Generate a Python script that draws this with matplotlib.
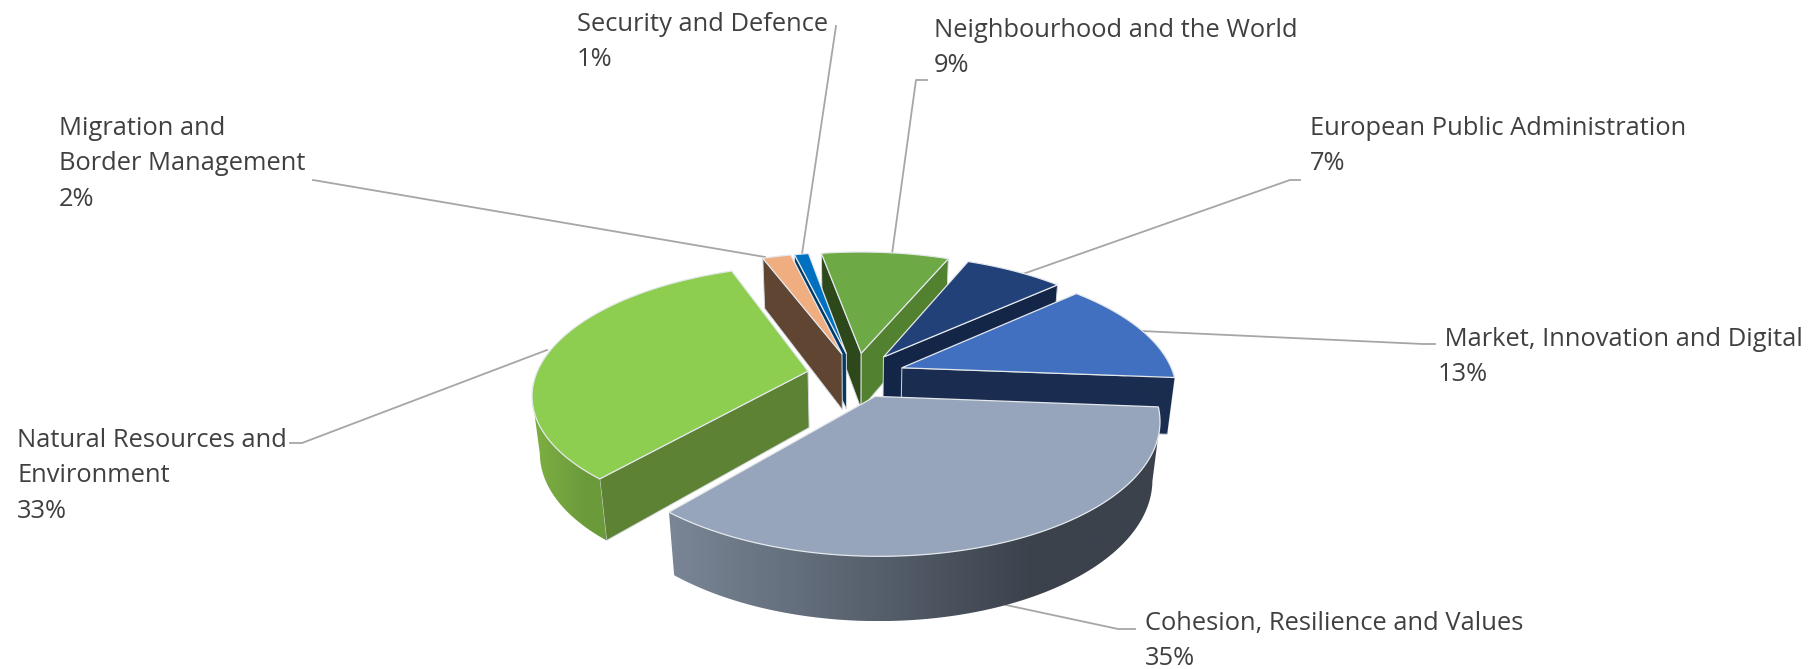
import numpy as np
import matplotlib
matplotlib.use("Agg")
import matplotlib.pyplot as plt
from matplotlib.colors import to_rgb
from matplotlib.patches import Polygon

categories = ["Cohesion, Resilience and Values", "Natural Resources and\nEnvironment",
              "Migration and\nBorder Management", "Security and Defence",
              "Neighbourhood and the World", "European Public Administration",
              " Market, Innovation and Digital"]
shares = [35, 33, 2, 1, 9, 7, 13]

# colours per slice: top, wall at the end of the sweep, wall at the start, rim left, rim right
top_cols = ["#96A5BB", "#8DCE50", "#F0AD80", "#0070C0", "#6DA944", "#224178", "#4270C0"]
end_cols = ["#5A6470", "#5E8233", "#604533", "#003A66", "#52812F", "#142648", "#1A2D50"]
start_cols = ["#5A6470", "#5E8233", "#604533", "#003A66", "#2D481B", "#142648", "#1A2D50"]
rim_left = ["#7A8696", "#7DB043", "#604533", "#003A66", "#52812F", "#142648", "#1A2D50"]
rim_right = ["#3B424C", "#6B9A3A", "#604533", "#003A66", "#52812F", "#142648", "#1A2D50"]

label_xy = [(1145, 641), (17, 476), (59, 164), (577, 42), (934, 48), (1310, 146), (1438, 357)]
leaders = [[(1135, 629), (1118, 629), (1006, 605)],
           [(290, 443), (302, 443), (547, 350)],
           [(313, 180), (765, 257)],
           [(836, 26), (802, 254)],
           [(927, 80), (916, 80), (892, 254)],
           [(1300, 180), (1290, 180), (1020, 275)],
           [(1435, 344), (1423, 344), (1141, 331)]]

CX, CY = 856, 375
R, A, B = 272, 125, 58
K, M = 0.168, 0.024
EXPLODE = 0.18
START = 4.5


def project(x, y, z=0.0):
    w = 1 + K * y - M * z
    return CX + R * x / w, CY + (-A * y - B * z) / w


def slice_point(t, bis, r=1.0, z=0.0):
    # t runs clockwise from the right-hand side of the disc
    x = EXPLODE * np.cos(bis) + r * np.cos(t)
    y = -(EXPLODE * np.sin(bis) + r * np.sin(t))
    return project(x, y, z)


def signed_area(pts):
    xs, ys = np.array(pts).T
    return np.sum(xs * np.roll(ys, -1) - np.roll(xs, -1) * ys)


fig = plt.figure(figsize=(18.17, 6.69), dpi=100)
ax = fig.add_axes([0, 0, 1, 1])

for pts in leaders:
    ax.plot(*zip(*pts), color="#A6A6A6", lw=1.3, zorder=1)

edges = np.radians(START + np.cumsum([0] + shares) * 3.6)
spans = list(zip(edges[:-1], edges[1:]))

# painter's order, back of the disc first
draw_order = [4, 3, 2, 5, 6, 1, 0]
for n, i in enumerate(draw_order):
    t0, t1 = spans[i]
    bis = (t0 + t1) / 2
    ts = np.linspace(t0, t1, 200)
    z = 10 + n * 5

    # flat cut faces, skipping the ones turned away from the viewer
    for t, col, sign in ((t0, start_cols[i], -1), (t1, end_cols[i], 1)):
        quad = [slice_point(t, bis, 0), slice_point(t, bis, 1),
                slice_point(t, bis, 1, -1), slice_point(t, bis, 0, -1)]
        if signed_area(quad) * sign > 0:
            ax.fill(*zip(*quad), fc=col, ec="#D5D9DE", lw=0.7, zorder=z)

    # outer wall: a left to right gradient between the rim's left and right extremes
    front = ts[np.sin(ts) > -0.5]
    if len(front) > 1:
        rim_x = [slice_point(t, bis)[0] for t in front]
        a, b = sorted((int(np.argmin(rim_x)), int(np.argmax(rim_x))))
        front = front[a:b + 1]
    if len(front) > 1:
        wall = [slice_point(t, bis) for t in front] + [slice_point(t, bis, 1, -1) for t in front[::-1]]
        xs = [p[0] for p in wall]
        ys = [p[1] for p in wall]
        lo, hi = min(xs), max(xs)
        c0, c1 = np.array(to_rgb(rim_left[i])), np.array(to_rgb(rim_right[i]))
        f = np.clip(np.linspace(0, 1, 256) * 1.35, 0, 1)[None, :, None]
        im = ax.imshow(c0 + (c1 - c0) * f, extent=(lo, hi, max(ys), min(ys)), aspect="auto",
                       interpolation="bilinear", zorder=z + 1)
        im.set_clip_path(Polygon(wall, transform=ax.transData))

    top = [slice_point(t0, bis, 0)] + [slice_point(t, bis) for t in ts]
    ax.fill(*zip(*top), fc=top_cols[i], ec="#E4E8EC", lw=0.9, zorder=z + 2)

for name, val, (x, y) in zip(categories, shares, label_xy):
    ax.text(x, y, f"{name}\n{val}%", family="Open Sans", fontsize=18.4, color="#404040",
            ha="left", va="center", linespacing=1.57, zorder=60)

ax.set_xlim(0, 1817)
ax.set_ylim(669, 0)
ax.axis("off")

fig.savefig("out.png", dpi=100, facecolor="white")
